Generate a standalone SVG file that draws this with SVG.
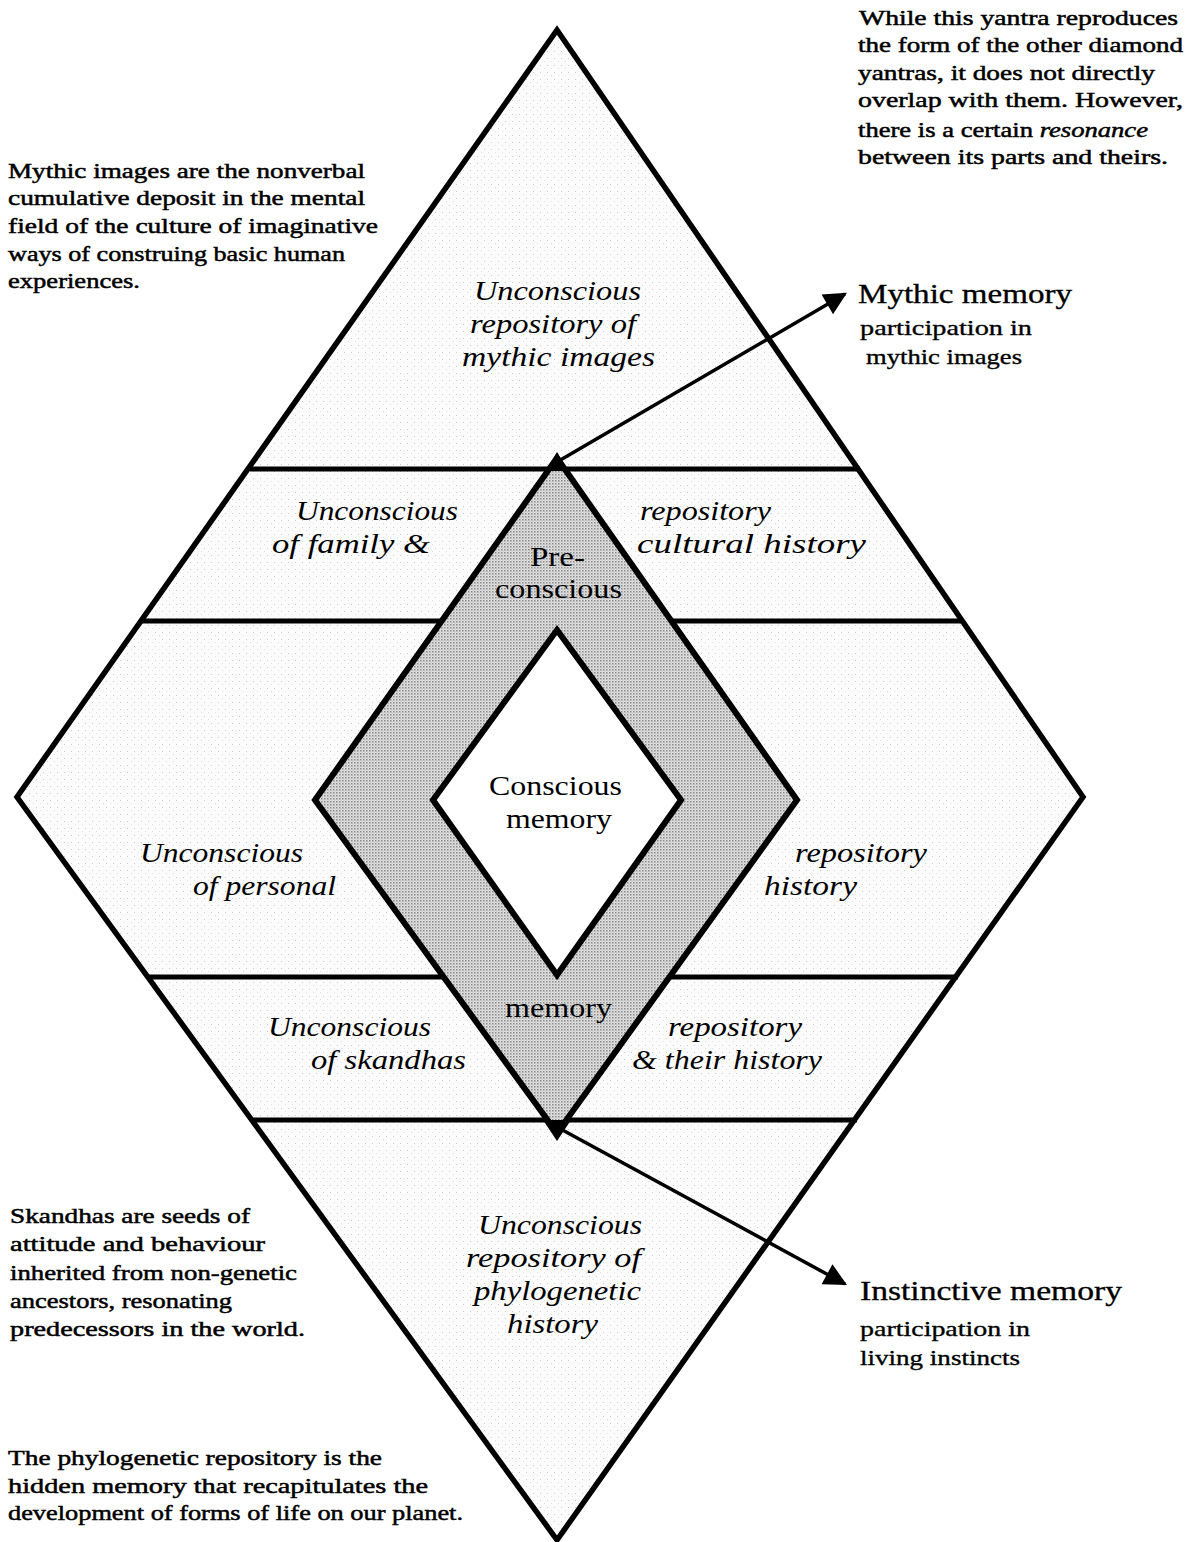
<svg xmlns="http://www.w3.org/2000/svg" width="1198" height="1542" viewBox="0 0 1198 1542">
  <defs>
    <!-- fine stipple used for the outer field -->
    <pattern id="lightDots" width="7" height="7" patternUnits="userSpaceOnUse">
      <rect width="7" height="7" fill="#fbfbfb"/>
      <rect x="1" y="2" width="1" height="1" fill="#cccccc"/>
      <rect x="5" y="5" width="1" height="1" fill="#e0e0e0"/>
    </pattern>
    <!-- denser stipple for the pre-conscious band -->
    <pattern id="denseDots" width="3" height="3" patternUnits="userSpaceOnUse">
      <rect width="3" height="3" fill="#e2e2e2"/>
      <rect x="0" y="0" width="1.5" height="1.5" fill="#888888"/>
      <rect x="1.5" y="1.5" width="1" height="1" fill="#aaaaaa"/>
    </pattern>
    <marker id="arrowHead" viewBox="0 0 10 10" refX="9" refY="5" markerWidth="8" markerHeight="6.5" orient="auto" markerUnits="strokeWidth">
      <path d="M0,0 L10,5 L0,10 z" fill="#000"/>
    </marker>
    <style>
      .edge { fill: none; stroke: #000; stroke-width: 5.5; stroke-linejoin: miter; }
      .band { fill: none; stroke: #000; stroke-width: 5; }
      .note { font-family: "Liberation Serif", serif; font-size: 22px; fill: #000; stroke: #000; stroke-width: 0.5; }
      .label { font-family: "Liberation Serif", serif; font-size: 28px; font-style: italic; fill: #000; }
      .plain { font-family: "Liberation Serif", serif; font-size: 27px; fill: #000; }
      .title { font-family: "Liberation Serif", serif; font-size: 28px; fill: #000; stroke: #000; stroke-width: 0.35; }
      .sub { font-family: "Liberation Serif", serif; font-size: 22px; fill: #000; stroke: #000; stroke-width: 0.35; }
      .conn { stroke: #000; stroke-width: 3.5; fill: none; }
    </style>
  </defs>

  <rect width="1198" height="1542" fill="#fff"/>

  <!-- outer diamond with its horizontal bands -->
  <g id="outer-diamond">
    <polygon points="557,30 1083,797 557,1540 17,797" fill="url(#lightDots)"/>
    <line class="band" x1="250" y1="469" x2="860" y2="469"/>
    <line class="band" x1="140" y1="621" x2="962" y2="621"/>
    <line class="band" x1="148" y1="977" x2="958" y2="977"/>
    <line class="band" x1="252" y1="1120" x2="857" y2="1120"/>
    <polygon class="edge" points="557,30 1083,797 557,1540 17,797"/>
  </g>

  <!-- pre-conscious band and conscious core -->
  <g id="preconscious-band">
    <polygon points="557,458 797,800 557,1133 315,800" fill="url(#denseDots)" stroke="#000" stroke-width="6"/>
    <polygon points="546,471 568,471 557,452" fill="#000"/>
    <polygon points="543,1120 571,1120 557,1141" fill="#000"/>
  </g>
  <g id="conscious-memory">
    <polygon points="557,630 681,800 557,975 433,800" fill="#fff" stroke="#000" stroke-width="6"/>
    <text class="plain" x="489" y="795" textLength="133" lengthAdjust="spacingAndGlyphs">Conscious</text>
    <text class="plain" x="506" y="828" textLength="106" lengthAdjust="spacingAndGlyphs">memory</text>
  </g>

  <g id="preconscious-labels">
    <text class="plain" x="530" y="566" textLength="55" lengthAdjust="spacingAndGlyphs">Pre-</text>
    <text class="plain" x="495" y="598" textLength="127" lengthAdjust="spacingAndGlyphs">conscious</text>
    <text class="plain" x="505" y="1017" textLength="107" lengthAdjust="spacingAndGlyphs">memory</text>
  </g>

  <!-- region labels -->
  <g id="mythic-repository">
    <text class="label" x="474" y="300" textLength="167" lengthAdjust="spacingAndGlyphs">Unconscious</text>
    <text class="label" x="470" y="333" textLength="166" lengthAdjust="spacingAndGlyphs">repository of</text>
    <text class="label" x="462" y="366" textLength="193" lengthAdjust="spacingAndGlyphs">mythic images</text>
  </g>
  <g id="cultural-repository">
    <text class="label" x="296" y="520" textLength="162" lengthAdjust="spacingAndGlyphs">Unconscious</text>
    <text class="label" x="272" y="553" textLength="158" lengthAdjust="spacingAndGlyphs">of family  &amp;</text>
    <text class="label" x="640" y="520" textLength="131" lengthAdjust="spacingAndGlyphs">repository</text>
    <text class="label" x="637" y="553" textLength="229" lengthAdjust="spacingAndGlyphs">cultural history</text>
  </g>
  <g id="personal-repository">
    <text class="label" x="140" y="862" textLength="163" lengthAdjust="spacingAndGlyphs">Unconscious</text>
    <text class="label" x="193" y="895" textLength="143" lengthAdjust="spacingAndGlyphs">of personal</text>
    <text class="label" x="795" y="862" textLength="132" lengthAdjust="spacingAndGlyphs">repository</text>
    <text class="label" x="764" y="895" textLength="93" lengthAdjust="spacingAndGlyphs">history</text>
  </g>
  <g id="skandha-repository">
    <text class="label" x="268" y="1036" textLength="163" lengthAdjust="spacingAndGlyphs">Unconscious</text>
    <text class="label" x="311" y="1069" textLength="155" lengthAdjust="spacingAndGlyphs">of skandhas</text>
    <text class="label" x="668" y="1036" textLength="134" lengthAdjust="spacingAndGlyphs">repository</text>
    <text class="label" x="632" y="1069" textLength="190" lengthAdjust="spacingAndGlyphs">&amp; their history</text>
  </g>
  <g id="phylogenetic-repository">
    <text class="label" x="478" y="1234" textLength="164" lengthAdjust="spacingAndGlyphs">Unconscious</text>
    <text class="label" x="466" y="1267" textLength="175" lengthAdjust="spacingAndGlyphs">repository  of</text>
    <text class="label" x="474" y="1300" textLength="167" lengthAdjust="spacingAndGlyphs">phylogenetic</text>
    <text class="label" x="507" y="1333" textLength="91" lengthAdjust="spacingAndGlyphs">history</text>
  </g>

  <!-- connectors -->
  <g id="connectors">
    <line class="conn" x1="557" y1="462" x2="845" y2="294" marker-end="url(#arrowHead)"/>
    <line class="conn" x1="557" y1="1127" x2="845" y2="1284" marker-end="url(#arrowHead)"/>
  </g>

  <g id="mythic-memory">
    <text class="title" x="858" y="303" textLength="214" lengthAdjust="spacingAndGlyphs">Mythic memory</text>
    <text class="sub" x="860" y="335" textLength="172" lengthAdjust="spacingAndGlyphs">participation in</text>
    <text class="sub" x="866" y="364" textLength="156" lengthAdjust="spacingAndGlyphs">mythic images</text>
  </g>
  <g id="instinctive-memory">
    <text class="title" x="860" y="1300" textLength="262" lengthAdjust="spacingAndGlyphs">Instinctive memory</text>
    <text class="sub" x="860" y="1336" textLength="170" lengthAdjust="spacingAndGlyphs">participation in</text>
    <text class="sub" x="860" y="1365" textLength="160" lengthAdjust="spacingAndGlyphs">living instincts</text>
  </g>

  <!-- explanatory notes -->
  <g id="note-resonance">
    <text class="note" x="859" y="25" textLength="319" lengthAdjust="spacingAndGlyphs">While this yantra reproduces</text>
    <text class="note" x="858" y="52" textLength="325" lengthAdjust="spacingAndGlyphs">the form of the other diamond</text>
    <text class="note" x="858" y="80" textLength="297" lengthAdjust="spacingAndGlyphs">yantras, it does not directly</text>
    <text class="note" x="858" y="107" textLength="325" lengthAdjust="spacingAndGlyphs">overlap with them.  However,</text>
    <text class="note" x="858" y="137" textLength="290" lengthAdjust="spacingAndGlyphs">there is a certain <tspan font-style="italic">resonance</tspan></text>
    <text class="note" x="858" y="164" textLength="310" lengthAdjust="spacingAndGlyphs">between its parts and theirs.</text>
  </g>
  <g id="note-mythic">
    <text class="note" x="8" y="178" textLength="357" lengthAdjust="spacingAndGlyphs">Mythic images are the nonverbal</text>
    <text class="note" x="8" y="205" textLength="357" lengthAdjust="spacingAndGlyphs">cumulative deposit in the mental</text>
    <text class="note" x="8" y="233" textLength="370" lengthAdjust="spacingAndGlyphs">field of the culture of imaginative</text>
    <text class="note" x="8" y="261" textLength="337" lengthAdjust="spacingAndGlyphs">ways of construing basic human</text>
    <text class="note" x="8" y="288" textLength="132" lengthAdjust="spacingAndGlyphs">experiences.</text>
  </g>
  <g id="note-skandhas">
    <text class="note" x="10" y="1223" textLength="240" lengthAdjust="spacingAndGlyphs">Skandhas are seeds of</text>
    <text class="note" x="10" y="1251" textLength="255" lengthAdjust="spacingAndGlyphs">attitude and behaviour</text>
    <text class="note" x="10" y="1280" textLength="287" lengthAdjust="spacingAndGlyphs">inherited from non-genetic</text>
    <text class="note" x="10" y="1308" textLength="222" lengthAdjust="spacingAndGlyphs">ancestors, resonating</text>
    <text class="note" x="10" y="1336" textLength="295" lengthAdjust="spacingAndGlyphs">predecessors in the world.</text>
  </g>
  <g id="note-phylogenetic">
    <text class="note" x="8" y="1465" textLength="374" lengthAdjust="spacingAndGlyphs">The phylogenetic repository is the</text>
    <text class="note" x="8" y="1493" textLength="420" lengthAdjust="spacingAndGlyphs">hidden memory that recapitulates the</text>
    <text class="note" x="8" y="1520" textLength="455" lengthAdjust="spacingAndGlyphs">development of forms of life on our planet.</text>
  </g>
</svg>
